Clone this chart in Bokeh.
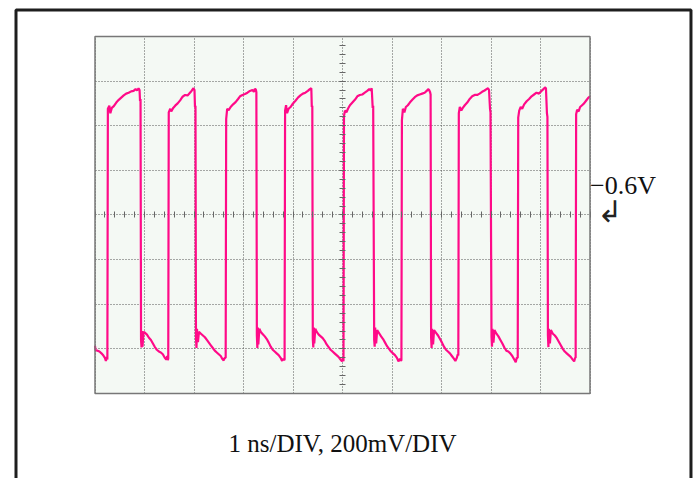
from bokeh.plotting import figure
from bokeh.models import (Range1d, Grid, LinearAxis, SingleIntervalTicker,
                          BoxAnnotation, Label)
from bokeh.embed import file_html
from bokeh.resources import INLINE

# ---- data (time in ns, amplitude in divisions of 200 mV) ----
trace_t = [
    0.00, 0.01, 0.05, 0.09, 0.13, 0.17, 0.20, 0.22, 0.24,
    0.25, 0.26, 0.29, 0.31, 0.34, 0.38, 0.43, 0.48, 0.53, 0.58, 0.63, 0.68, 0.73, 0.78, 0.82, 0.85, 0.88, 0.90, 0.91, 0.92,
    0.93, 0.94, 0.95, 0.96, 0.98, 1.01, 1.05, 1.09, 1.13, 1.17, 1.21, 1.25, 1.29, 1.33, 1.37, 1.41, 1.44, 1.46, 1.47,
    1.48, 1.49, 1.52, 1.54, 1.58, 1.62, 1.67, 1.72, 1.77, 1.82, 1.87, 1.91, 1.95, 1.99, 2.01, 2.02, 2.03,
    2.04, 2.05, 2.06, 2.08, 2.10, 2.14, 2.18, 2.22, 2.26, 2.30, 2.34, 2.38, 2.42, 2.46, 2.50, 2.54, 2.57, 2.60, 2.62,
    2.64, 2.65, 2.67, 2.70, 2.74, 2.79, 2.84, 2.89, 2.93, 2.98, 3.03, 3.08, 3.13, 3.18, 3.21, 3.23, 3.25, 3.26,
    3.27, 3.28, 3.29, 3.30, 3.32, 3.35, 3.39, 3.43, 3.47, 3.51, 3.55, 3.59, 3.63, 3.67, 3.71, 3.75, 3.78, 3.80, 3.82,
    3.83, 3.84, 3.86, 3.88, 3.91, 3.95, 4.00, 4.05, 4.10, 4.15, 4.20, 4.25, 4.30, 4.34, 4.37, 4.38, 4.39,
    4.40, 4.41, 4.42, 4.43, 4.45, 4.48, 4.52, 4.56, 4.60, 4.64, 4.68, 4.72, 4.76, 4.80, 4.84, 4.88, 4.92, 4.96, 4.99, 5.01,
    5.02, 5.03, 5.05, 5.08, 5.11, 5.15, 5.20, 5.25, 5.30, 5.35, 5.40, 5.45, 5.50, 5.54, 5.57, 5.59, 5.61, 5.62,
    5.64, 5.65, 5.66, 5.68, 5.70, 5.74, 5.78, 5.82, 5.86, 5.90, 5.94, 5.98, 6.02, 6.06, 6.10, 6.13, 6.16, 6.18,
    6.19, 6.20, 6.22, 6.25, 6.28, 6.32, 6.36, 6.41, 6.46, 6.51, 6.56, 6.61, 6.66, 6.70, 6.73, 6.75, 6.77, 6.78,
    6.79, 6.80, 6.81, 6.83, 6.85, 6.89, 6.93, 6.97, 7.01, 7.05, 7.09, 7.13, 7.17, 7.21, 7.25, 7.28, 7.31, 7.33,
    7.34, 7.35, 7.37, 7.40, 7.43, 7.47, 7.52, 7.57, 7.62, 7.67, 7.72, 7.77, 7.82, 7.87, 7.91, 7.94, 7.96, 7.98, 7.99,
    8.01, 8.02, 8.03, 8.05, 8.07, 8.11, 8.15, 8.19, 8.23, 8.27, 8.31, 8.35, 8.39, 8.43, 8.47, 8.50, 8.52,
    8.54, 8.55, 8.57, 8.60, 8.63, 8.67, 8.72, 8.77, 8.82, 8.87, 8.92, 8.97, 9.02, 9.06, 9.09, 9.11, 9.13, 9.14,
    9.15, 9.16, 9.17, 9.19, 9.21, 9.25, 9.29, 9.33, 9.37, 9.41, 9.45, 9.49, 9.53, 9.57, 9.61, 9.65, 9.68, 9.70,
    9.71, 9.72, 9.74, 9.77, 9.80, 9.84, 9.88, 9.92, 9.96, 10.0,
]
trace_v = [
    -2.93, -3.03, -3.04, -3.06, -3.10, -3.15, -3.20, -3.27, -3.18,
    -3.24, 2.38, 2.45, 2.28, 2.40, 2.44, 2.52, 2.58, 2.63, 2.68, 2.72, 2.74, 2.77, 2.78, 2.82, 2.79, 2.84, 2.80, 2.55, 2.60,
    -2.80, -2.97, -2.60, -2.95, -2.62, -2.64, -2.68, -2.75, -2.80, -2.88, -2.96, -3.02, -3.06, -3.08, -3.12, -3.20, -3.24, -3.16, -3.25,
    -3.22, 2.30, 2.38, 2.32, 2.40, 2.45, 2.50, 2.57, 2.65, 2.69, 2.68, 2.73, 2.78, 2.84, 2.80, 2.42, 2.45,
    -2.75, -2.98, -2.55, -2.85, -2.62, -2.66, -2.70, -2.74, -2.80, -2.86, -2.92, -2.98, -3.04, -3.08, -3.12, -3.16, -3.22, -3.26, -3.20,
    -3.20, 2.15, 2.38, 2.35, 2.42, 2.48, 2.53, 2.60, 2.66, 2.69, 2.71, 2.74, 2.78, 2.80, 2.76, 2.83, 2.81, 2.75,
    -2.70, -2.98, -2.52, -2.90, -2.55, -2.62, -2.67, -2.72, -2.78, -2.86, -2.95, -3.02, -3.06, -3.10, -3.14, -3.20, -3.27, -3.22, -3.25,
    -3.24, 2.34, 2.46, 2.28, 2.38, 2.42, 2.50, 2.56, 2.63, 2.68, 2.72, 2.74, 2.78, 2.82, 2.84, 2.42, 2.45,
    -2.78, -2.97, -2.52, -2.88, -2.55, -2.62, -2.68, -2.72, -2.76, -2.82, -2.90, -2.96, -3.02, -3.06, -3.10, -3.14, -3.18, -3.24, -3.28, -3.20,
    -3.28, 2.22, 2.34, 2.30, 2.38, 2.46, 2.52, 2.58, 2.66, 2.69, 2.70, 2.74, 2.78, 2.82, 2.79, 2.84, 2.40, 2.45,
    -2.80, -2.95, -2.52, -2.88, -2.58, -2.65, -2.72, -2.78, -2.86, -2.94, -3.00, -3.06, -3.10, -3.14, -3.20, -3.28, -3.22, -3.26,
    -3.26, 2.12, 2.38, 2.30, 2.42, 2.46, 2.52, 2.58, 2.64, 2.68, 2.70, 2.72, 2.74, 2.78, 2.82, 2.80, 2.75, 2.70,
    -2.75, -2.98, -2.55, -2.90, -2.58, -2.64, -2.70, -2.78, -2.86, -2.95, -3.02, -3.06, -3.10, -3.16, -3.22, -3.27, -3.20, -3.12,
    -3.15, 2.28, 2.42, 2.34, 2.40, 2.46, 2.52, 2.60, 2.66, 2.69, 2.69, 2.72, 2.76, 2.79, 2.82, 2.84, 2.80, 2.38, 2.30,
    -2.72, -2.95, -2.55, -2.86, -2.58, -2.66, -2.72, -2.80, -2.88, -2.97, -3.04, -3.06, -3.10, -3.16, -3.24, -3.30, -3.20,
    -3.20, 2.18, 2.34, 2.42, 2.38, 2.48, 2.55, 2.60, 2.66, 2.70, 2.74, 2.72, 2.78, 2.82, 2.86, 2.84, 2.28, 2.20,
    -2.70, -2.96, -2.55, -2.88, -2.58, -2.66, -2.70, -2.76, -2.84, -2.92, -3.00, -3.06, -3.10, -3.14, -3.18, -3.24, -3.28, -3.20,
    -3.20, 2.26, 2.36, 2.32, 2.42, 2.46, 2.50, 2.56, 2.62, 2.66,
]

screen_time = (0, 10)        # 10 divisions, 1 ns/DIV
screen_amp = (-4, 4)         # 8 divisions, 200 mV/DIV
caption = "1 ns/DIV, 200mV/DIV"
ref_label = "\u22120.6V"
ref_arrow = "\u21b2"

W, H = 694, 478
p = figure(width=W, height=H, output_backend="svg", toolbar_location=None,
           x_axis_location=None, y_axis_location=None, min_border=0,
           x_range=Range1d(-1.9091, 12.1111), y_range=Range1d(-5.9048, 4.8067))
p.outline_line_color = None
p.background_fill_color = "white"
p.border_fill_color = "white"
p.xgrid.visible = False
p.ygrid.visible = False

# screen background
p.add_layout(BoxAnnotation(left=screen_time[0], right=screen_time[1],
                           bottom=screen_amp[0], top=screen_amp[1],
                           fill_color="#f4f9f4", fill_alpha=1,
                           line_color=None, level="image"))

# graticule
gx = Grid(dimension=0, ticker=SingleIntervalTicker(interval=1), bounds=screen_time)
gy = Grid(dimension=1, ticker=SingleIntervalTicker(interval=1), bounds=screen_amp)
try:
    gx.cross_bounds = screen_amp
    gy.cross_bounds = screen_time
except Exception:
    pass
for g in (gx, gy):
    g.grid_line_color = "#555555"
    g.grid_line_width = 1
    g.grid_line_dash = "1 2"
    p.add_layout(g, "center")

# center axes with minor ticks
xc = LinearAxis(fixed_location=0, bounds=screen_time,
                ticker=SingleIntervalTicker(interval=1, num_minor_ticks=5))
yc = LinearAxis(fixed_location=5, bounds=screen_amp,
                ticker=SingleIntervalTicker(interval=1, num_minor_ticks=5))
for ax in (xc, yc):
    ax.axis_line_color = None
    ax.major_tick_line_color = "#666666"
    ax.minor_tick_line_color = "#666666"
    ax.major_tick_in = 3
    ax.major_tick_out = 3
    ax.minor_tick_in = 3
    ax.minor_tick_out = 3
    ax.major_label_text_font_size = "0px"
    ax.major_label_text_color = None
    ax.major_label_standoff = 0
p.add_layout(xc, "below")
p.add_layout(yc, "left")

# trace
p.line(trace_t, trace_v, line_color="#ff0a88", line_width=2.2)

# screen border
p.add_layout(BoxAnnotation(left=screen_time[0], right=screen_time[1],
                           bottom=screen_amp[0], top=screen_amp[1],
                           fill_color=None, fill_alpha=0,
                           line_color="#777777", line_alpha=1, line_width=1.5))

# outer frame
p.add_layout(BoxAnnotation(left=-1.596, right=12.040, top=4.594, bottom=-12,
                           fill_color=None, fill_alpha=0,
                           line_color="#1e1e1e", line_alpha=1, line_width=3))

# texts
p.add_layout(Label(x=10.0, y=0.66, text=ref_label, text_font="Liberation Serif",
                   text_font_size="26px", text_color="#111111",
                   text_align="left", text_baseline="alphabetic"))
p.add_layout(Label(x=10.40, y=0.08, text=ref_arrow, text_font="DejaVu Sans",
                   text_font_size="30px", text_color="#222222",
                   text_align="center", text_baseline="middle"))
p.add_layout(Label(x=5.0, y=-5.13, text=caption, text_font="Liberation Serif",
                   text_font_size="25px", text_color="#111111",
                   text_align="center", text_baseline="alphabetic"))

open("out.html", "w").write(file_html(p, INLINE))
